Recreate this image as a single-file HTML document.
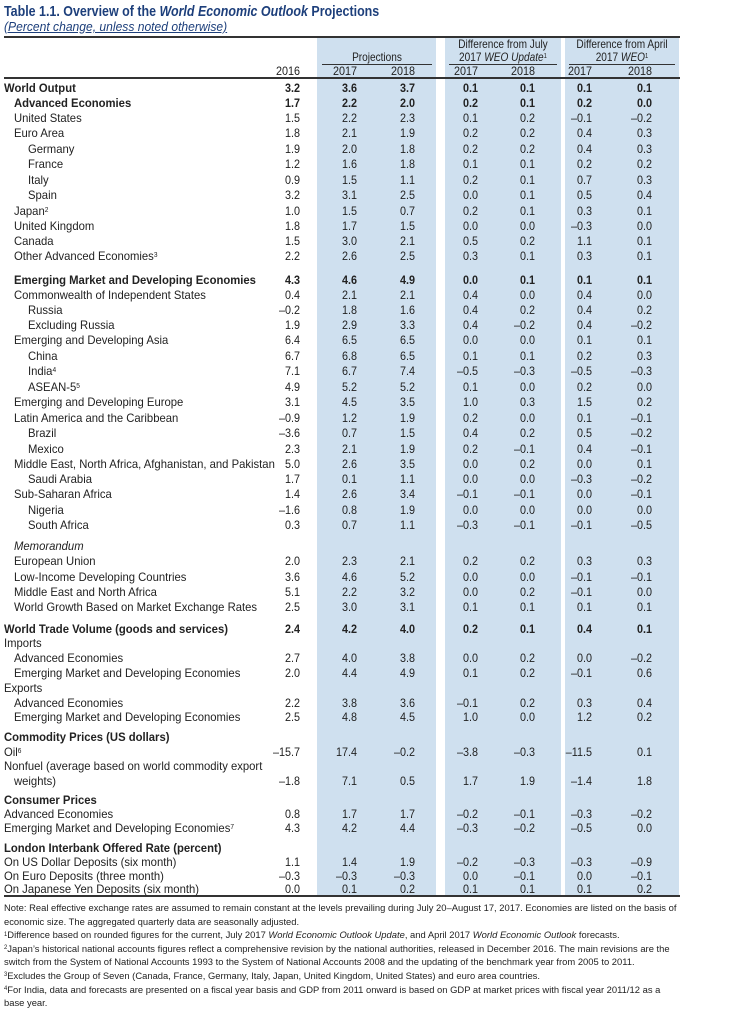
<!DOCTYPE html>
<html><head><meta charset="utf-8">
<style>
body{margin:0;background:#fff;width:750px;height:1011px;overflow:hidden;position:relative;font-family:"Liberation Sans",sans-serif;color:#222;}
sup{line-height:0;vertical-align:baseline;position:relative;top:-0.45em;}
.abs{position:absolute;white-space:nowrap;}
.band{position:absolute;background:#cfe0ef;top:38px;height:858px;}
.rule{position:absolute;left:4px;width:676px;background:#333;}
.t{font-size:12px;line-height:14px;transform:scaleX(0.94);transform-origin:left center;}
.n{font-size:12px;line-height:14px;transform:scaleX(0.9);transform-origin:right center;text-align:right;}
.c{font-size:12px;line-height:13px;transform:translateX(-50%) scaleX(0.84);text-align:center;}
.b{font-weight:bold;}
.note{font-size:9.6px;line-height:12px;transform:scaleX(0.98);transform-origin:left center;color:#222;}
</style></head><body>
<div class="abs" style="left:4px;top:3px;font-size:15px;font-weight:bold;color:#1d3f7b;transform:scaleX(0.83);transform-origin:left;">Table 1.1. Overview of the <i>World Economic Outlook</i> Projections</div>
<div class="abs" style="left:4px;top:19px;font-size:13px;font-style:italic;color:#1d3f7b;text-decoration:underline;transform:scaleX(0.93);transform-origin:left;">(Percent change, unless noted otherwise)</div>
<div class="band" style="left:317px;width:119px;"></div>
<div class="band" style="left:445px;width:116px;"></div>
<div class="band" style="left:565px;width:114px;"></div>
<div class="rule" style="top:36px;height:2px;"></div>
<div class="rule" style="top:77px;height:2px;"></div>
<div class="rule" style="top:895px;height:2px;"></div>
<div class="abs" style="left:322px;top:64px;width:110px;height:1px;background:#333;"></div>
<div class="abs" style="left:449px;top:64px;width:108px;height:1px;background:#333;"></div>
<div class="abs" style="left:569px;top:64px;width:106px;height:1px;background:#333;"></div>
<div class="abs c" style="left:377px;top:51px;">Projections</div>
<div class="abs c" style="left:503px;top:38px;">Difference from July<br>2017 <i>WEO Update</i><sup style="font-size:7px">1</sup></div>
<div class="abs c" style="left:622px;top:38px;">Difference from April<br>2017 <i>WEO</i><sup style="font-size:7px">1</sup></div>
<div id="tbl"></div>
<div id="notes"></div>
<script>
const colRight=[300,357,415,478,535,592,652];
const years=["2016","2017","2018","2017","2018","2017","2018"];
// [label, indent, bold, y, values...]
const rows=[
["World Output",0,1,88,"3.2","3.6","3.7","0.1","0.1","0.1","0.1"],
["Advanced Economies",1,1,103,"1.7","2.2","2.0","0.2","0.1","0.2","0.0"],
["United States",1,0,118,"1.5","2.2","2.3","0.1","0.2","–0.1","–0.2"],
["Euro Area",1,0,133,"1.8","2.1","1.9","0.2","0.2","0.4","0.3"],
["Germany",2,0,149,"1.9","2.0","1.8","0.2","0.2","0.4","0.3"],
["France",2,0,164,"1.2","1.6","1.8","0.1","0.1","0.2","0.2"],
["Italy",2,0,180,"0.9","1.5","1.1","0.2","0.1","0.7","0.3"],
["Spain",2,0,195,"3.2","3.1","2.5","0.0","0.1","0.5","0.4"],
["Japan²",1,0,211,"1.0","1.5","0.7","0.2","0.1","0.3","0.1"],
["United Kingdom",1,0,226,"1.8","1.7","1.5","0.0","0.0","–0.3","0.0"],
["Canada",1,0,241,"1.5","3.0","2.1","0.5","0.2","1.1","0.1"],
["Other Advanced Economies³",1,0,256,"2.2","2.6","2.5","0.3","0.1","0.3","0.1"],
["Emerging Market and Developing Economies",1,1,280,"4.3","4.6","4.9","0.0","0.1","0.1","0.1"],
["Commonwealth of Independent States",1,0,295,"0.4","2.1","2.1","0.4","0.0","0.4","0.0"],
["Russia",2,0,310,"–0.2","1.8","1.6","0.4","0.2","0.4","0.2"],
["Excluding Russia",2,0,325,"1.9","2.9","3.3","0.4","–0.2","0.4","–0.2"],
["Emerging and Developing Asia",1,0,340,"6.4","6.5","6.5","0.0","0.0","0.1","0.1"],
["China",2,0,356,"6.7","6.8","6.5","0.1","0.1","0.2","0.3"],
["India⁴",2,0,371,"7.1","6.7","7.4","–0.5","–0.3","–0.5","–0.3"],
["ASEAN-5⁵",2,0,387,"4.9","5.2","5.2","0.1","0.0","0.2","0.0"],
["Emerging and Developing Europe",1,0,402,"3.1","4.5","3.5","1.0","0.3","1.5","0.2"],
["Latin America and the Caribbean",1,0,418,"–0.9","1.2","1.9","0.2","0.0","0.1","–0.1"],
["Brazil",2,0,433,"–3.6","0.7","1.5","0.4","0.2","0.5","–0.2"],
["Mexico",2,0,449,"2.3","2.1","1.9","0.2","–0.1","0.4","–0.1"],
["Middle East, North Africa, Afghanistan, and Pakistan",1,0,464,"5.0","2.6","3.5","0.0","0.2","0.0","0.1"],
["Saudi Arabia",2,0,479,"1.7","0.1","1.1","0.0","0.0","–0.3","–0.2"],
["Sub-Saharan Africa",1,0,494,"1.4","2.6","3.4","–0.1","–0.1","0.0","–0.1"],
["Nigeria",2,0,510,"–1.6","0.8","1.9","0.0","0.0","0.0","0.0"],
["South Africa",2,0,525,"0.3","0.7","1.1","–0.3","–0.1","–0.1","–0.5"],
["<i>Memorandum</i>",1,0,546],
["European Union",1,0,561,"2.0","2.3","2.1","0.2","0.2","0.3","0.3"],
["Low-Income Developing Countries",1,0,577,"3.6","4.6","5.2","0.0","0.0","–0.1","–0.1"],
["Middle East and North Africa",1,0,592,"5.1","2.2","3.2","0.0","0.2","–0.1","0.0"],
["World Growth Based on Market Exchange Rates",1,0,607,"2.5","3.0","3.1","0.1","0.1","0.1","0.1"],
["World Trade Volume (goods and services)",0,1,629,"2.4","4.2","4.0","0.2","0.1","0.4","0.1"],
["Imports",0,0,643],
["Advanced Economies",1,0,658,"2.7","4.0","3.8","0.0","0.2","0.0","–0.2"],
["Emerging Market and Developing Economies",1,0,673,"2.0","4.4","4.9","0.1","0.2","–0.1","0.6"],
["Exports",0,0,688],
["Advanced Economies",1,0,703,"2.2","3.8","3.6","–0.1","0.2","0.3","0.4"],
["Emerging Market and Developing Economies",1,0,717,"2.5","4.8","4.5","1.0","0.0","1.2","0.2"],
["Commodity Prices (US dollars)",0,1,737],
["Oil⁶",0,0,752,"–15.7","17.4","–0.2","–3.8","–0.3","–11.5","0.1"],
["Nonfuel (average based on world commodity export",0,0,766],
["weights)",1,0,781,"–1.8","7.1","0.5","1.7","1.9","–1.4","1.8"],
["Consumer Prices",0,1,800],
["Advanced Economies",0,0,814,"0.8","1.7","1.7","–0.2","–0.1","–0.3","–0.2"],
["Emerging Market and Developing Economies⁷",0,0,828,"4.3","4.2","4.4","–0.3","–0.2","–0.5","0.0"],
["London Interbank Offered Rate (percent)",0,1,848],
["On US Dollar Deposits (six month)",0,0,862,"1.1","1.4","1.9","–0.2","–0.3","–0.3","–0.9"],
["On Euro Deposits (three month)",0,0,876,"–0.3","–0.3","–0.3","0.0","–0.1","0.0","–0.1"],
["On Japanese Yen Deposits (six month)",0,0,889,"0.0","0.1","0.2","0.1","0.1","0.1","0.2"]
];
const notes=[
"Note: Real effective exchange rates are assumed to remain constant at the levels prevailing during July 20–August 17, 2017. Economies are listed on the basis of",
"economic size. The aggregated quarterly data are seasonally adjusted.",
"<sup>1</sup>Difference based on rounded figures for the current, July 2017 <i>World Economic Outlook Update</i>, and April 2017 <i>World Economic Outlook</i> forecasts.",
"<sup>2</sup>Japan’s historical national accounts figures reflect a comprehensive revision by the national authorities, released in December 2016. The main revisions are the",
"switch from the System of National Accounts 1993 to the System of National Accounts 2008 and the updating of the benchmark year from 2005 to 2011.",
"<sup>3</sup>Excludes the Group of Seven (Canada, France, Germany, Italy, Japan, United Kingdom, United States) and euro area countries.",
"<sup>4</sup>For India, data and forecasts are presented on a fiscal year basis and GDP from 2011 onward is based on GDP at market prices with fiscal year 2011/12 as a",
"base year."
];
const sups={"²":"2","³":"3","⁴":"4","⁵":"5","⁶":"6","⁷":"7"};
const tbl=document.getElementById('tbl');
years.forEach((y,i)=>{
  const d=document.createElement('div');
  d.className='abs n';
  d.style.left=(colRight[i]-40)+'px';d.style.width='40px';d.style.top='64px';
  d.textContent=y;
  
  
  tbl.appendChild(d);
});
const indentX=[4,14,28];
rows.forEach(r=>{
  const l=document.createElement('div');
  l.className='abs t'+(r[2]?' b':'');
  l.style.left=indentX[r[1]]+'px';l.style.top=(r[3]-7)+'px';
  l.innerHTML=r[0].replace(/[²³⁴⁵⁶⁷]/g,c=>'<sup style="font-size:7px">'+sups[c]+'</sup>');
  
  
  tbl.appendChild(l);
  for(let i=4;i<r.length;i++){
    const d=document.createElement('div');
    d.className='abs n'+(r[2]?' b':'');
    d.style.left=(colRight[i-4]-50)+'px';d.style.width='50px';d.style.top=(r[3]-7)+'px';
    d.textContent=r[i];
    
    
    tbl.appendChild(d);
  }
});
const nt=document.getElementById('notes');
notes.forEach((t,i)=>{
  const d=document.createElement('div');
  d.className='abs note';
  d.style.left='4px';d.style.top=(903+i*13.6)+'px';
  d.innerHTML=t.replace(/<sup>/g,'<sup style="font-size:6px">');
  
  
  nt.appendChild(d);
});
</script>
</body></html>
